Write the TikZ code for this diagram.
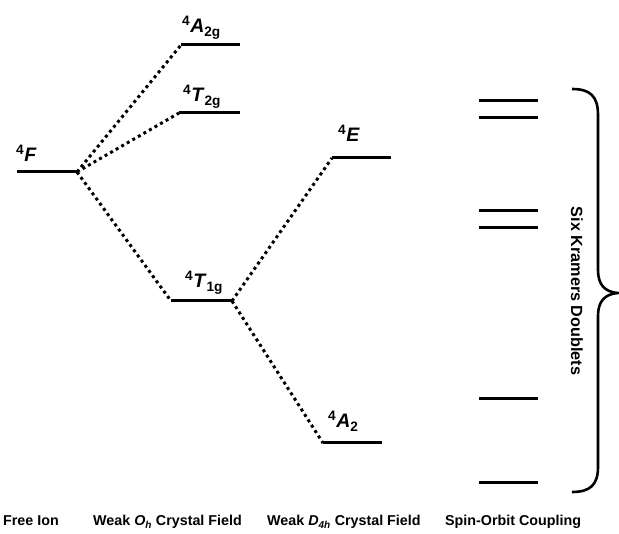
\documentclass[tikz,border=0pt]{standalone}
\usepackage{fontspec}
\setmainfont{Liberation Sans}
\begin{document}
\begin{tikzpicture}[x=1pt,y=-1pt,
  level/.style={line width=3pt},
  corr/.style={line width=3pt,dash pattern=on 3pt off 3.4pt},
  lab/.style={inner sep=0pt,font=\fontsize{19.5}{21}\selectfont\bfseries,anchor=base west},
  axis/.style={inner sep=0pt,font=\fontsize{14.3}{16}\selectfont\bfseries,anchor=base west},
  brace/.style={line width=2.6pt}]
\useasboundingbox (0,0) rectangle (619,534);
% level end points
\coordinate (F-l) at (17,172);   \coordinate (F-r) at (77,172);
\coordinate (A2g-l) at (181,45); \coordinate (A2g-r) at (240,45);
\coordinate (T2g-l) at (179,113);\coordinate (T2g-r) at (240,113);
\coordinate (T1g-l) at (171,301);\coordinate (T1g-r) at (232,301);
\coordinate (E-l) at (332,158);  \coordinate (E-r) at (391,158);
\coordinate (A2-l) at (323,443); \coordinate (A2-r) at (382,443);
\foreach \n/\y in {s1/101,s2/118,s3/211,s4/228,s5/399,s6/483}{
  \coordinate (\n-l) at (479,\y); \coordinate (\n-r) at (538,\y);}
% levels
\foreach \n in {F,A2g,T2g,T1g,E,A2,s1,s2,s3,s4,s5,s6}
  \draw[level] (\n-l) -- (\n-r);
% correlation lines
\draw[corr] (F-r) -- (A2g-l);
\draw[corr] (F-r) -- (T2g-l);
\draw[corr] (F-r) -- (T1g-l);
\draw[corr] (T1g-r) -- (E-l);
\draw[corr] (T1g-r) -- (A2-l);
% level labels
\node[lab] (lF) at (16,162) {\textsuperscript{4}\textit{F}};
\node[lab] (lA2g) at (182,33) {\textsuperscript{4}\textit{A}\textsubscript{2g}};
\node[lab] (lT2g) at (183,102) {\textsuperscript{4}\textit{T}\textsubscript{2g}};
\node[lab] (lT1g) at (185,288) {\textsuperscript{4}\textit{T}\textsubscript{1g}};
\node[lab] (lE) at (338,142) {\textsuperscript{4}\textit{E}};
\node[lab] (lA2) at (328,428) {\textsuperscript{4}\textit{A}\textsubscript{2}};
% brace
\draw[brace] (572,89) .. controls (590,89) and (598,96) .. (598,115) -- (598,270)
  .. controls (598,285) and (605,292) .. (618,293)
  .. controls (605,294) and (598,301) .. (598,316) -- (598,467)
  .. controls (598,485) and (590,492) .. (572,492);
\node[inner sep=0pt,font=\fontsize{16.2}{18}\selectfont\bfseries,rotate=-90] (kd) at (577,291) {Six Kramers Doublets};
% axis labels
\node[axis] (a1) at (3,526) {Free Ion};
\node[axis] (a2) at (93,526) {Weak \textit{O\textsubscript{h}} Crystal Field};
\node[axis] (a3) at (267,526) {Weak \textit{D\textsubscript{4h}} Crystal Field};
\node[axis] (a4) at (445,526) {Spin-Orbit Coupling};
\end{tikzpicture}
\end{document}
